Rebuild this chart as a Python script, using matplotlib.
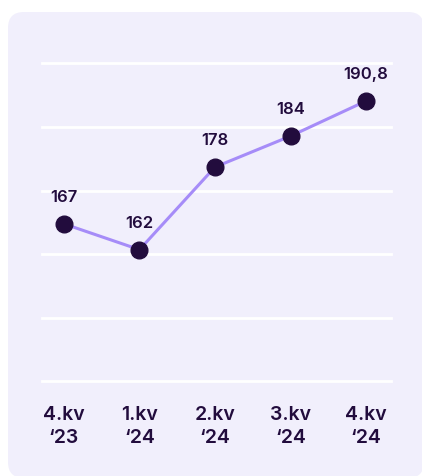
import numpy as np
import matplotlib
matplotlib.use('Agg')
import matplotlib.pyplot as plt
import matplotlib.patches as mpatches
from matplotlib.transforms import IdentityTransform

# quarterly values
quarters = ['4.kv\n\u201823', '1.kv\n\u201824', '2.kv\n\u201824', '3.kv\n\u201824', '4.kv\n\u201824']
values = [167, 162, 178, 184, 190.8]
value_labels = ['167', '162', '178', '184', '190,8']

dark = '#220c3d'
line_col = '#a68cf8'
card_col = '#f1effc'

plt.rcParams['font.family'] = ['Inter', 'DejaVu Sans']

fig = plt.figure(figsize=(4.22, 4.76), dpi=100)
fig.patch.set_facecolor('white')

# rounded card behind the chart (pixel coords)
card = mpatches.FancyBboxPatch((8, -2), 416, 466, boxstyle='round,pad=0,rounding_size=16',
                               transform=IdentityTransform(), facecolor=card_col,
                               edgecolor='none', zorder=-5)
fig.patches.append(card)

ax = fig.add_axes([42 / 422, (476 - 381.3) / 476, 349 / 422, 318 / 476])
ax.set_zorder(2)
ax.set_facecolor('none')
ax.set_xlim(-0.29, 4.33)
ylo, yhi = 136.5, 198.1
ax.set_ylim(ylo, yhi)

for g in np.linspace(ylo, yhi, 6):
    ax.axhline(g, color='white', lw=2.0, zorder=1, clip_on=False)

x = np.arange(len(values))
ax.plot(x, values, color=line_col, lw=2.2, zorder=2)
ax.plot(x, values, 'o', color=dark, ms=12, zorder=3)

for xi, v, lab in zip(x, values, value_labels):
    ax.annotate(lab, (xi, v), xytext=(0, 19), textcoords='offset points',
                ha='center', va='center', fontsize=12, fontweight='semibold', color=dark)

ax.set_xticks(x)
ax.set_xticklabels(quarters, fontsize=14, fontweight='semibold', color=dark, linespacing=1.35)
ax.tick_params(axis='x', length=0, pad=18)
ax.set_yticks([])
for s in ax.spines.values():
    s.set_visible(False)

fig.savefig('out.png', dpi=100)
